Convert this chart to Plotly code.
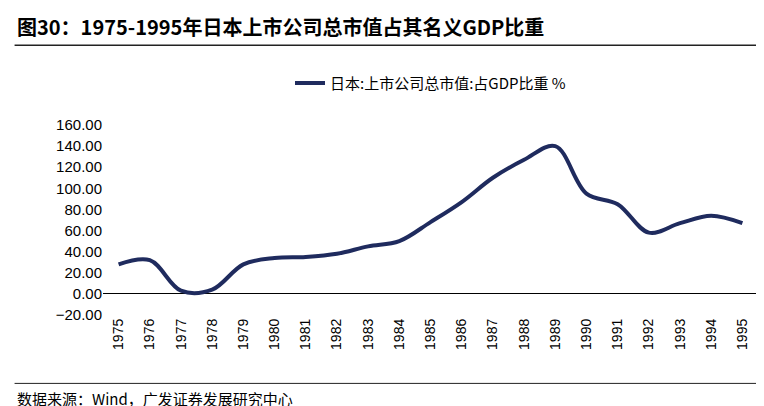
import plotly.graph_objects as go

years = [str(y) for y in range(1975, 1996)]
ratio = [28, 32, 3, 4, 28, 34, 35, 38, 45, 50, 68, 87, 110, 127, 140,
         95, 85, 58, 67, 74, 67]
series_name = "日本:上市公司总市值:占GDP比重 %"

font = "Noto Sans CJK SC, Arial, sans-serif"

fig = go.Figure()
fig.add_trace(go.Scatter(
    x=years, y=ratio, mode="lines", name=series_name,
    line=dict(color="#1F2B5E", width=4, shape="spline", smoothing=1.0)))

fig.update_layout(
    width=764, height=406,
    paper_bgcolor="white", plot_bgcolor="white",
    margin=dict(l=95, r=14, t=117, b=99),
    font=dict(family=font, size=15, color="black"),
    showlegend=True,
    legend=dict(orientation="h", x=0.5, xanchor="center", y=1.22,
                yanchor="middle", font=dict(size=15)),
    xaxis=dict(tickangle=-90, showline=False,
               ticks="", showgrid=False, range=[-0.5, 20.5],
               tickfont=dict(family="Arial", size=14)),
    yaxis=dict(range=[-20, 160], dtick=20, tickformat=".2f",
               showgrid=False, zeroline=True, zerolinecolor="black",
               zerolinewidth=1, showline=False, ticks="",
               tickfont=dict(family="Arial", size=15)),
)

fig.add_annotation(
    text="<b>图30：1975-1995年日本上市公司总市值占其名义GDP比重</b>",
    xref="paper", yref="paper", x=-0.135, y=1.52, xanchor="left",
    yanchor="middle", showarrow=False, font=dict(size=20, family=font))
fig.add_shape(type="line", xref="paper", yref="paper", x0=-0.135, x1=1.02,
              y0=1.42, y1=1.42, line=dict(color="#222", width=1.5))
fig.add_shape(type="line", xref="paper", yref="paper", x0=-0.135, x1=1.02,
              y0=-0.36, y1=-0.36, line=dict(color="#222", width=1))
fig.add_annotation(
    text="数据来源：Wind，广发证券发展研究中心",
    xref="paper", yref="paper", x=-0.135, y=-0.44, xanchor="left",
    yanchor="middle", showarrow=False, font=dict(size=15, family=font))

fig.write_html("out.html")
